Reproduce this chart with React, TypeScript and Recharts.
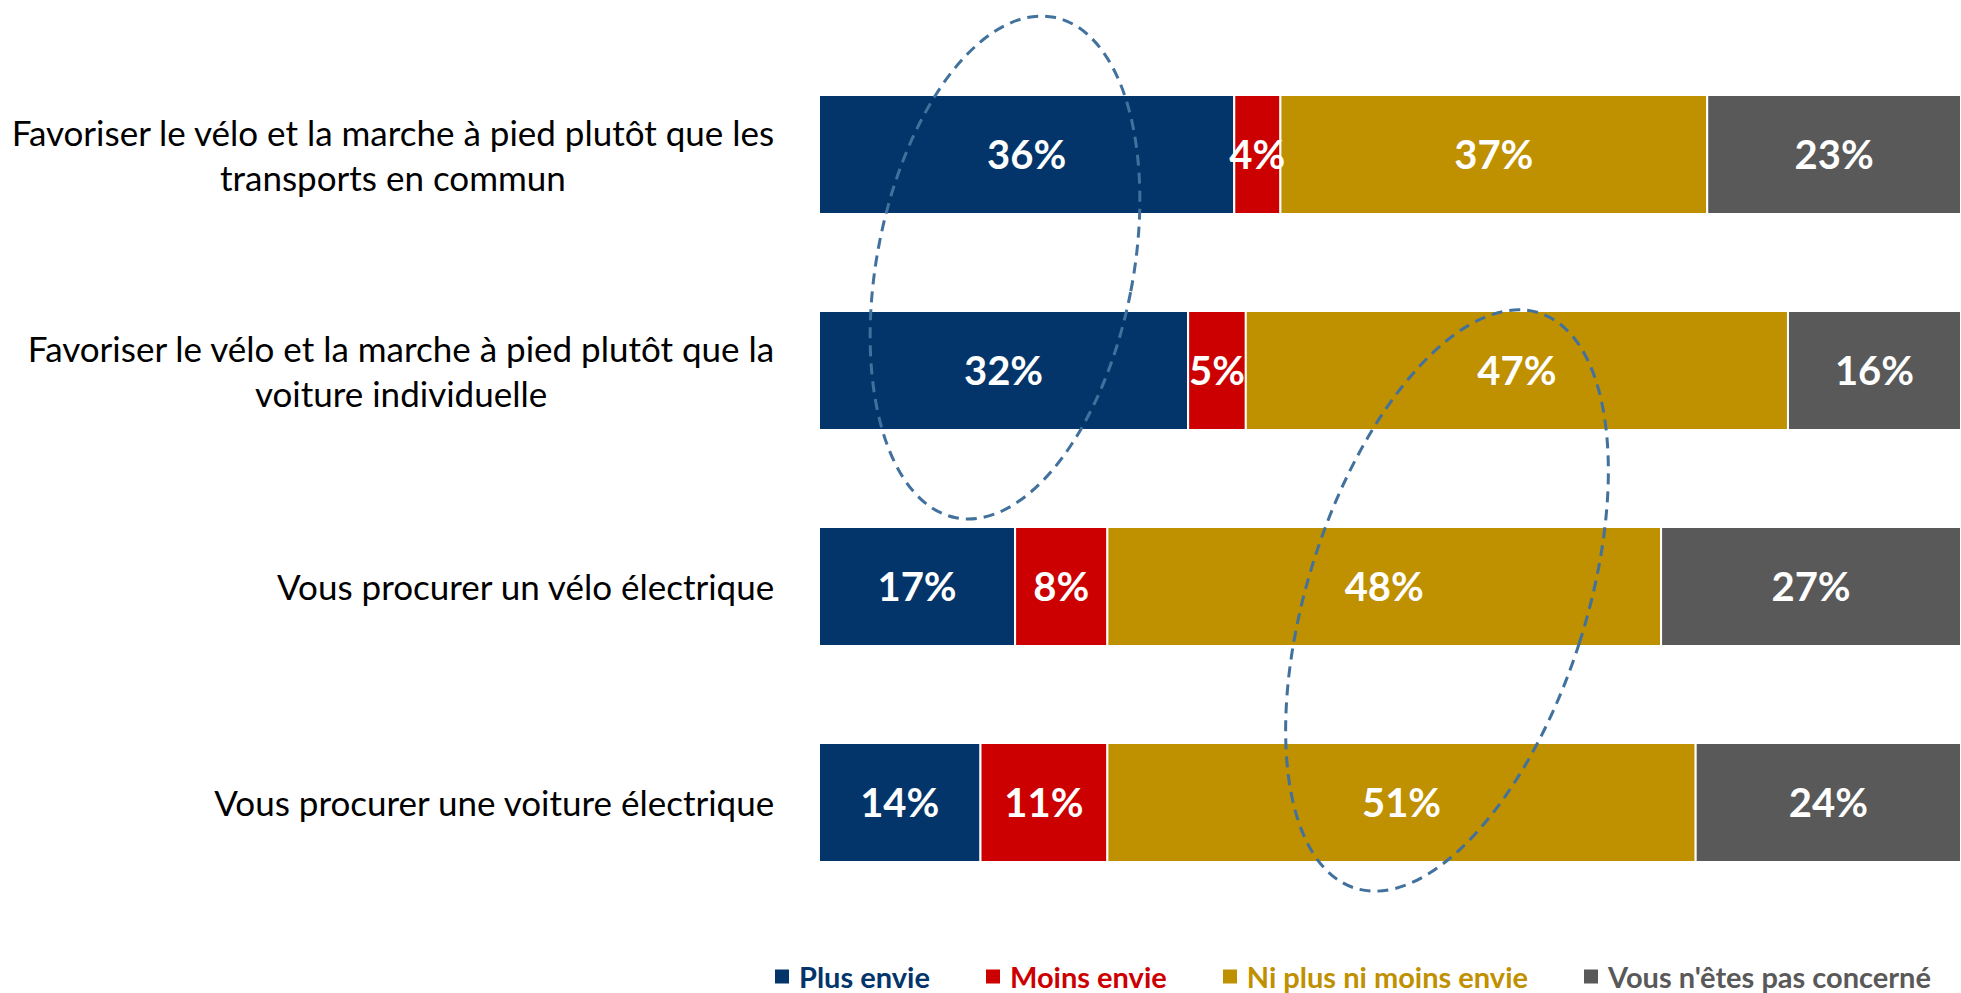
import React from 'react';
import { BarChart, Bar, XAxis, YAxis, LabelList, Legend } from 'recharts';

// categories, top to bottom ("\n" marks the wrap in the original label)
const categories = [
  'Favoriser le vélo et la marche à pied plutôt que les\ntransports en commun',
  'Favoriser le vélo et la marche à pied plutôt que la\nvoiture individuelle',
  'Vous procurer un vélo électrique',
  'Vous procurer une voiture électrique',
];

const plusEnvie = [36, 32, 17, 14];
const moinsEnvie = [4, 5, 8, 11];
const niPlusNiMoins = [37, 47, 48, 51];
const pasConcerne = [23, 16, 27, 24];

const seriesNames = ['Plus envie', 'Moins envie', 'Ni plus ni moins envie', "Vous n'êtes pas concerné"];
const seriesKeys = ['plus', 'moins', 'ni', 'pas'];
const seriesColors = ['#03356A', '#CC0000', '#BF9000', '#595959'];

const data = categories.map((name, i) => ({
  name,
  plus: plusEnvie[i],
  moins: moinsEnvie[i],
  ni: niPlusNiMoins[i],
  pas: pasConcerne[i],
}));

const FONT = 'Lato, "Open Sans", sans-serif';
const TICK_SIZE = 35;

let ctx: CanvasRenderingContext2D | null = null;
function measure(text: string, font: string) {
  if (!ctx) ctx = document.createElement('canvas').getContext('2d');
  if (!ctx) return text.length * 15;
  ctx.font = font;
  return ctx.measureText(text).width;
}

// right-aligned block, lines centred inside it (like the wrapped Excel labels)
function CategoryTick(props: any) {
  const { x, y, payload } = props;
  const lines = String(payload.value).split('\n');
  const lh = 45;
  const widths = lines.map((l) => measure(l, `${TICK_SIZE}px Lato`));
  const maxW = Math.max(...widths);
  const cx = x - maxW / 2;
  const y0 = y - ((lines.length - 1) * lh) / 2;
  return (
    <g>
      {lines.map((l, i) => (
        <text
          key={i}
          x={cx}
          y={y0 + i * lh}
          textAnchor="middle"
          dominantBaseline="central"
          fontFamily={FONT}
          fontSize={TICK_SIZE}
          fill="#000"
        >
          {l}
        </text>
      ))}
    </g>
  );
}

function LegendContent() {
  return (
    <div style={{ height: 83, position: 'relative', fontFamily: FONT }}>
      <div
        style={{
          position: 'absolute',
          top: 66,
          left: 775,
          transform: 'translateY(-50%)',
          display: 'flex',
          alignItems: 'center',
          gap: 56,
          whiteSpace: 'nowrap',
        }}
      >
        {seriesNames.map((n, i) => (
          <div key={n} style={{ display: 'flex', alignItems: 'center', gap: 10 }}>
            <span style={{ width: 14, height: 14, background: seriesColors[i], display: 'inline-block' }} />
            <span style={{ color: seriesColors[i], fontWeight: 700, fontSize: 29 }}>{n}</span>
          </div>
        ))}
      </div>
    </div>
  );
}

export default function App() {
  return (
    <div style={{ position: 'absolute', left: 0, top: 0, width: 1961, height: 993, background: '#fff' }}>
      <BarChart
        width={1961}
        height={993}
        data={data}
        layout="vertical"
        barSize={119}
        margin={{ top: 46, right: 0, bottom: 0, left: 0 }}
      >
        <XAxis type="number" domain={[0, 99]} allowDataOverflow hide />
        <YAxis
          type="category"
          dataKey="name"
          width={819}
          axisLine={false}
          tickLine={false}
          tickSize={0}
          tickMargin={44}
          tick={<CategoryTick />}
          interval={0}
        />
        <Legend verticalAlign="bottom" content={<LegendContent />} />
        {seriesKeys.map((k, i) => (
          <Bar
            key={k}
            dataKey={k}
            name={seriesNames[i]}
            stackId="a"
            fill={seriesColors[i]}
            stroke="#fff"
            strokeWidth={2}
            isAnimationActive={false}
          >
            <LabelList
              dataKey={k}
              position="center"
              formatter={(v: any) => `${v}%`}
              fill="#fff"
              fontFamily={FONT}
              fontWeight={700}
              fontSize={40}
            />
          </Bar>
        ))}
      </BarChart>
      <svg
        width={1961}
        height={993}
        style={{ position: 'absolute', left: 0, top: 0, pointerEvents: 'none' }}
      >
        <ellipse
          cx={1005}
          cy={267.5}
          rx={128}
          ry={255}
          transform="rotate(11.1 1005 267.5)"
          fill="none"
          stroke="#41719C"
          strokeWidth={3}
          strokeDasharray="11 7"
        />
        <ellipse
          cx={1447}
          cy={600.5}
          rx={139}
          ry={302}
          transform="rotate(17.8 1447 600.5)"
          fill="none"
          stroke="#41719C"
          strokeWidth={3}
          strokeDasharray="11 7"
        />
      </svg>
    </div>
  );
}
